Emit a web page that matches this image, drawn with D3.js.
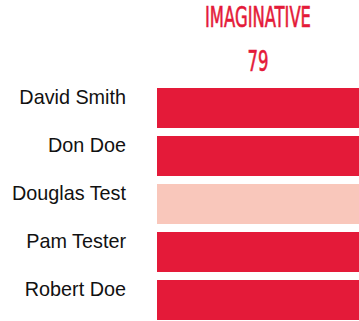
<!DOCTYPE html>
<html>
<head>
<meta charset="utf-8">
<script src="https://cdn.jsdelivr.net/npm/d3@7"></script>
<style>
  html, body { margin: 0; padding: 0; background: #fff; overflow: hidden; }
  svg { display: block; }
</style>
</head>
<body>
<svg id="chart" width="359" height="321"></svg>
<script>
// Trait column: one cell per person, shaded by rating level
const traitName = "IMAGINATIVE";
const traitScore = 79;
const people = ["David Smith", "Don Doe", "Douglas Test", "Pam Tester", "Robert Doe"];
const levels = ["high", "high", "low", "high", "high"];

const width = 359, height = 321;
const svg = d3.select("#chart");

const color = d3.scaleOrdinal()
  .domain(["high", "low"])
  .range(["#e41a39", "#f9c7bb"]);

const y = d3.scaleBand()
  .domain(people)
  .range([84, 324])
  .paddingInner(1 / 6)
  .paddingOuter(1 / 12);

const x = d3.scaleBand()
  .domain([traitName])
  .range([157, 363]);

const colCenter = 258;

// Condensed header text: squeeze the glyphs horizontally to a target width
function header(text, baseline, targetWidth) {
  const g = svg.append("g").attr("transform", `translate(${colCenter},${baseline})`);
  const t = g.append("text")
    .attr("text-anchor", "middle")
    .attr("font-family", "'DejaVu Sans Condensed', 'DejaVu Sans', sans-serif")
    .attr("font-weight", "normal")
    .attr("font-size", 27.5)
    .attr("fill", "#e41a39")
    .attr("stroke", "#e41a39")
    .attr("stroke-width", 0.6)
    .text(text);
  const w = t.node().getComputedTextLength();
  t.attr("transform", `scale(${targetWidth / w},1)`);
}

header(traitName, 27, 106);
header(String(traitScore), 70.5, 21);

// Row labels
svg.append("g")
  .selectAll("text")
  .data(people)
  .join("text")
  .attr("x", 126)
  .attr("y", d => y(d) + 16)
  .attr("text-anchor", "end")
  .attr("font-family", "'Liberation Sans', Arial, sans-serif")
  .attr("font-size", 19.8)
  .attr("fill", "#111")
  .text(d => d);

// Cells
svg.append("g")
  .selectAll("rect")
  .data(people.map((p, i) => ({ person: p, level: levels[i] })))
  .join("rect")
  .attr("x", x(traitName))
  .attr("y", d => y(d.person))
  .attr("width", x.bandwidth())
  .attr("height", y.bandwidth())
  .attr("fill", d => color(d.level));
</script>
</body>
</html>
